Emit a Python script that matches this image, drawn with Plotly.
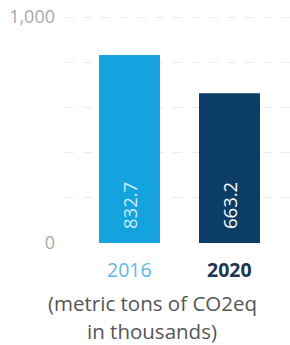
import plotly.graph_objects as go

categories = ["2016", "2020"]
values = [832.7, 663.2]
value_labels = ["832.7", "663.2"]
ytick_vals = [0, 200, 400, 600, 800, 1000]
ytick_text = ["0", "", "", "", "", "1,000"]
caption_lines = ["(metric tons of CO2eq", "in thousands)"]

bar_colors = ["#14a3de", "#0c3d66"]
text_colors = ["#cdebf9", "#ffffff"]
label_colors = ["#5bbbe6", "#1c3550"]

FONT = "Open Sans, Noto Sans, sans-serif"

fig = go.Figure()
fig.add_trace(go.Bar(
    x=list(range(len(categories))), y=values,
    marker=dict(color=bar_colors, line=dict(width=0)),
    width=0.61, hoverinfo="skip",
))

PLOT_H = 345 - 16 - 102
for i, c in enumerate(categories):
    # value label inside bar (rotated)
    fig.add_annotation(
        x=i, xref="x", y=0, yref="y", yanchor="bottom", yshift=12,
        text=value_labels[i], textangle=-90, showarrow=False,
        font=dict(family=FONT, size=18.5, color=text_colors[i]),
    )
    # category label
    fig.add_annotation(
        x=i, xref="x", y=-26 / PLOT_H, yref="paper", yanchor="middle",
        text=("<b>%s</b>" % c) if i == 1 else c, showarrow=False,
        font=dict(family=FONT, size=19.5, color=label_colors[i]),
    )

for j, line in enumerate(caption_lines):
    fig.add_annotation(
        x=(152 - 65) / 225, xref="paper", y=(-60 - 28 * j) / PLOT_H, yref="paper",
        yanchor="middle", text=line, showarrow=False,
        font=dict(family=FONT, size=20.5, color="#555555"),
    )

fig.update_layout(
    width=290, height=345,
    margin=dict(l=65, r=0, t=16, b=102),
    paper_bgcolor="white", plot_bgcolor="white",
    showlegend=False,
    xaxis=dict(range=[-0.645, 1.605], showticklabels=False, showgrid=False,
               zeroline=False, showline=False, ticks=""),
    yaxis=dict(range=[0, 1005], tickvals=ytick_vals, ticktext=ytick_text,
               showgrid=True, gridcolor="#ececec", gridwidth=1, griddash="dash",
               zeroline=False, showline=False, ticks="",
               tickfont=dict(family=FONT, size=18, color="#a8a8a8"), ticklabelstandoff=9),
)

fig.write_html("out.html", config={"displayModeBar": False},
               post_script="document.body.style.margin='0';")
